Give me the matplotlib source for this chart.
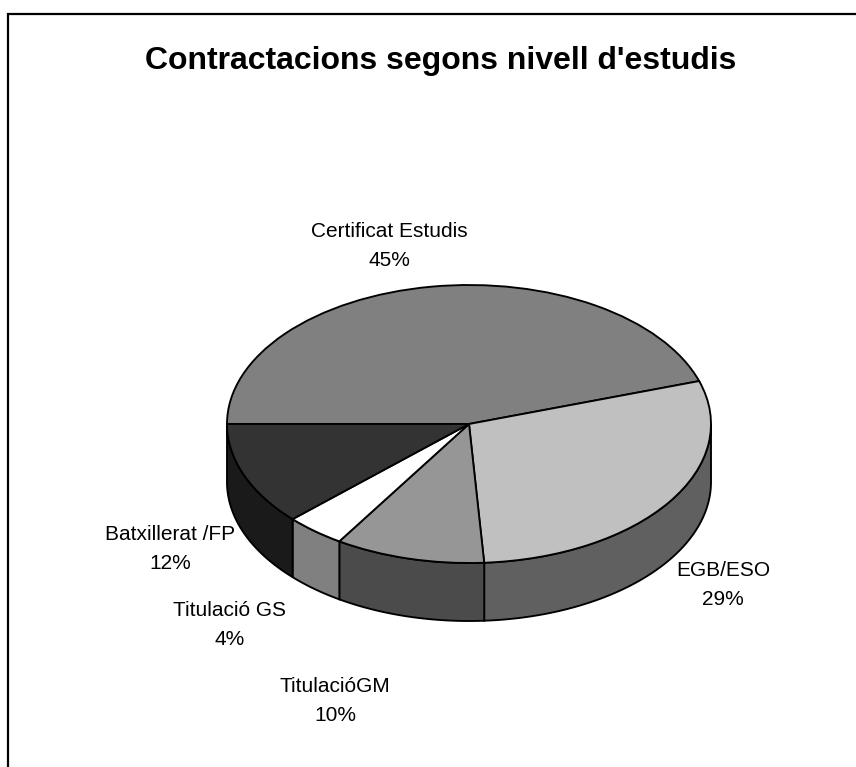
import numpy as np
import matplotlib
matplotlib.use("Agg")
import matplotlib.pyplot as plt
from matplotlib.transforms import Affine2D

plt.rcParams['font.family'] = ['Liberation Sans', 'DejaVu Sans']

title = "Contractacions segons nivell d'estudis"
labels = ["Certificat Estudis", "EGB/ESO", "TitulacióGM", "Titulació GS", "Batxillerat /FP"]
values = [45, 29, 10, 4, 12]
top_colors = ["#808080", "#c0c0c0", "#969696", "#ffffff", "#333333"]
side_colors = ["#404040", "#606060", "#4b4b4b", "#808080", "#1a1a1a"]
label_pos = [(389, 246), (723, 585), (335, 701), (230, 625), (170, 549)]

# pie geometry in image pixels
cx, cy = 469, 424
rx, ry = 242, 139
depth = 58

fig = plt.figure(figsize=(8.56, 7.67), dpi=100)
ax = fig.add_axes([0, 0, 1, 1])

wedges, _ = ax.pie(values, colors=top_colors, startangle=180, counterclock=False,
                   wedgeprops=dict(edgecolor="black", linewidth=1.35), normalize=True)

ax.set_xlim(0, 856)
ax.set_ylim(767, 0)
ax.set_aspect("auto")
ax.axis("off")

# squash the pie into an ellipse
squash = Affine2D().scale(rx, -ry).translate(cx, cy) + ax.transData
for w in wedges:
    w.set_transform(squash)
    w.set_zorder(3)

# side walls, only the part of each slice in the front half is visible
ends = 180 - np.cumsum(values) * 3.6
starts = np.concatenate(([180], ends[:-1]))
for a0, a1, col in zip(starts, ends, side_colors):
    a0 = min(a0, 0) if a0 <= 0 else 0 if a1 < 0 else a0
    if a1 >= 0:
        continue
    t = np.radians(np.linspace(a0, a1, 60))
    x = cx + rx * np.cos(t)
    y = cy - ry * np.sin(t)
    ax.fill(np.concatenate((x, x[::-1])), np.concatenate((y, y[::-1] + depth)),
            facecolor=col, edgecolor="black", linewidth=1.35, zorder=2)

for name, v, (x, y) in zip(labels, values, label_pos):
    ax.text(x, y, f"{name}\n{v}%", ha="center", va="center", fontsize=15,
            linespacing=1.72, color="black", zorder=4)

ax.text(441, 61, title, ha="center", va="center", fontsize=23, fontweight="bold")

# chart area frame runs off the image at right and bottom
ax.plot([8.5, 8.5, 856], [767, 14, 14], color="black", lw=1.6, solid_joinstyle="miter")

fig.savefig("out.png", dpi=100)
